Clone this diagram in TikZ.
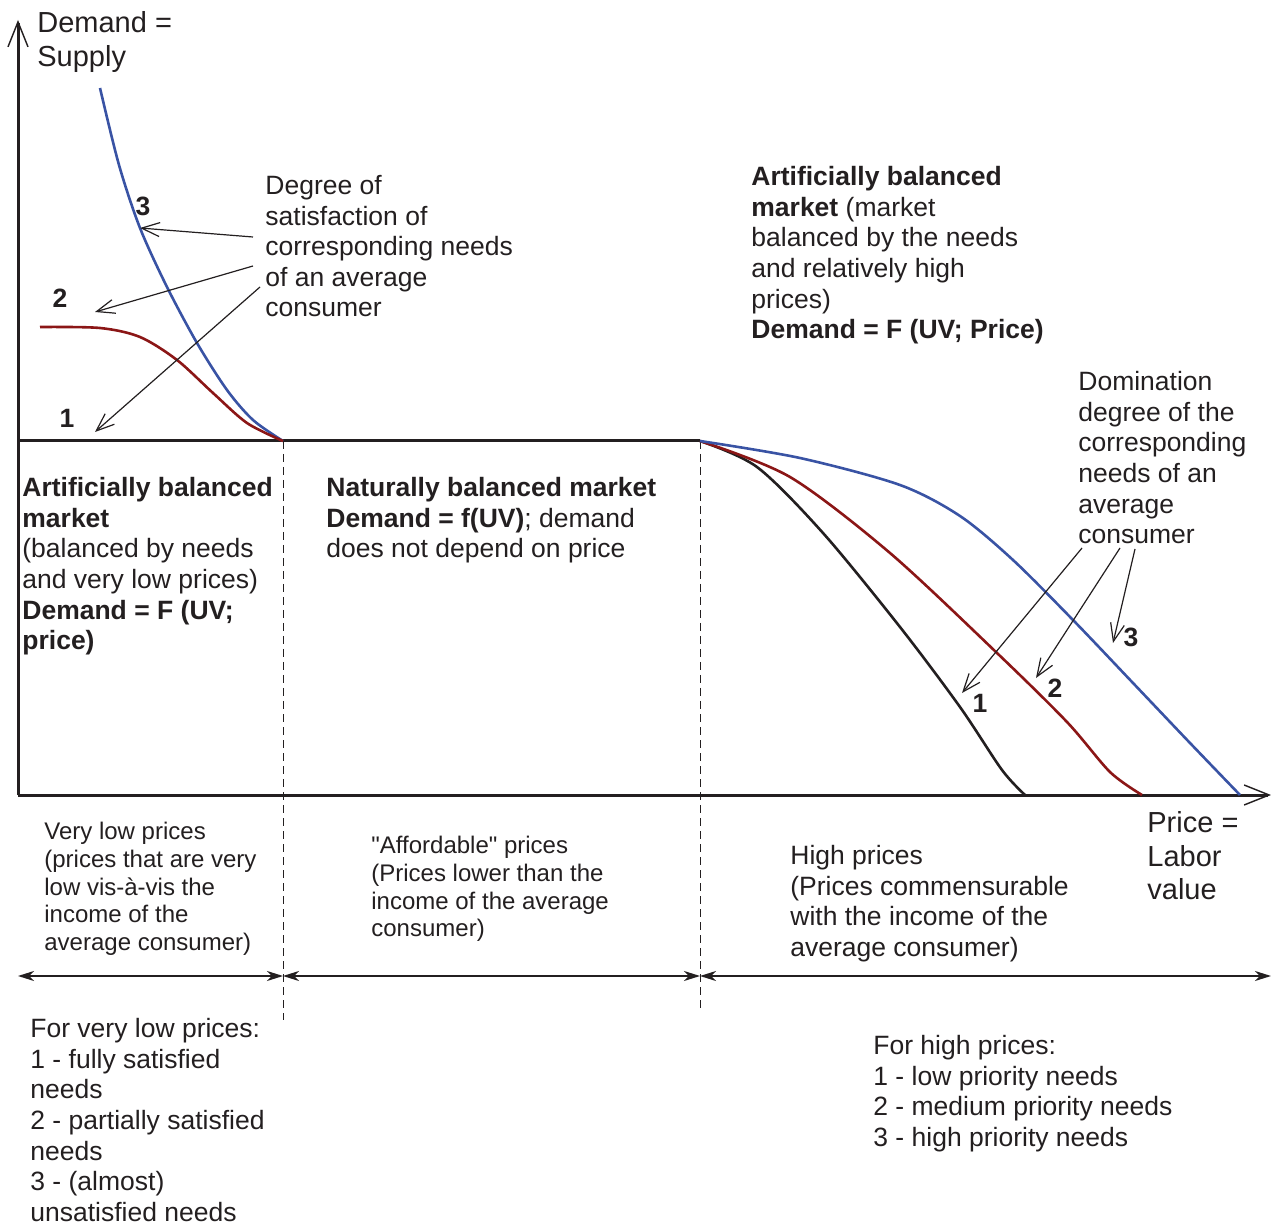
\documentclass[tikz,border=0pt]{standalone}
\usepackage{fontspec}
\setmainfont{Liberation Sans}
\newfontfamily\plainquote{Liberation Sans}
\usetikzlibrary{arrows.meta}
\definecolor{ink}{RGB}{35,31,32}
\definecolor{needblue}{RGB}{57,83,164}
\definecolor{needred}{RGB}{139,22,22}

\begin{document}
\begin{tikzpicture}[
    x=0.5pt, y=-0.5pt,
    txt/.style={anchor=north west, inner sep=0pt, align=left, text=ink,
                font=\fontsize{13.25}{15.3}\selectfont},
    small/.style={txt, font=\fontsize{12}{13.85}\selectfont},
    axlab/.style={txt, font=\fontsize{14.5}{16.85}\selectfont},
    num/.style={inner sep=0pt, text=ink, font=\fontsize{13.25}{15.3}\selectfont\bfseries},
    axis/.style={draw=ink, line width=1.5pt,
                 -{Straight Barb[length=12.5pt, width=10pt, line width=0.7pt]}},
    curve/.style={line width=1.3pt},
    guide/.style={draw=ink, line width=0.5pt, dash pattern=on 4pt off 2.5pt},
    span/.style={draw=ink, line width=1pt,
                 {Stealth[length=8pt, width=5pt, inset=2.5pt]}-{Stealth[length=8pt, width=5pt, inset=2.5pt]}},
    pointer/.style={draw=ink, line width=0.6pt, -{Straight Barb[length=9pt, width=7pt]}}
]
    \useasboundingbox (0,0) rectangle (1271,1225);

    \coordinate (origin) at (18,795);
    \coordinate (ytop) at (18,20);
    \coordinate (xend) at (1271,795);
    \coordinate (lowend) at (283,441);
    \coordinate (highstart) at (700,441);

    \draw[axis] (origin) -- (ytop);
    \draw[axis] (origin) -- (xend);
    \draw[draw=ink, line width=1.5pt] (18,441) -- (highstart);
    \draw[guide] (lowend) -- (283,1020);
    \draw[guide] (highstart) -- (700,1012);

    \draw[curve, needblue] plot[smooth] coordinates {(100,88) (119,165) (140,228) (167,287)
        (197,343) (227,390) (253,420) (283,441)};
    \draw[curve, needred] plot[smooth] coordinates {(40,327) (100,328) (140,337) (177,360)
        (213,393) (247,423) (283,441)};
    \draw[curve, ink] plot[smooth] coordinates {(700,441) (757,467) (823,533)
        (900,627) (960,707) (1002,770) (1025,795)};
    \draw[curve, needred] plot[smooth] coordinates {(700,441) (790,477) (890,553)
        (997,653) (1067,722) (1110,772) (1142,795)};
    \draw[curve, needblue] plot[smooth] coordinates {(700,441) (800,458) (900,485) (960,516)
        (1013,560) (1073,620) (1133,683) (1190,743) (1240,795)};

    \node[axlab] (ylab) at (37,11) {Demand =\\Supply};
    \node[axlab] (xlab) at (1147,811) {Price =\\Labor\\value};

    \node[txt] (degtxt) at (265,175) {Degree of\\satisfaction of\\corresponding needs\\of an average\\consumer};
    \node[txt] (artright) at (751,166) {\textbf{Artificially balanced}\\\textbf{market} (market\\balanced by the needs\\and relatively high\\prices)\\\textbf{Demand = F (UV; Price)}};
    \node[txt] (domtxt) at (1078,371) {Domination\\degree of the\\corresponding\\needs of an\\average\\consumer};
    \node[txt] (artleft) at (22,477) {\textbf{Artificially balanced}\\\textbf{market}\\(balanced by needs\\and very low prices)\\\textbf{Demand = F (UV;}\\\textbf{price)}};
    \node[txt] (natural) at (326,477) {\textbf{Naturally balanced market}\\\textbf{Demand = f(UV)}; demand\\does not depend on price};

    \node[small] (verylow) at (44,822) {Very low prices\\(prices that are very\\low vis-à-vis the\\income of the\\average consumer)};
    \node[small] (afford) at (371,836) {{\plainquote"}Affordable{\plainquote"} prices\\(Prices lower than the\\income of the average\\consumer)};
    \node[txt] (high) at (790,845) {High prices\\(Prices commensurable\\with the income of the\\average consumer)};

    \node[txt] (forlow) at (30,1018) {For very low prices:\\1 - fully satisfied\\needs\\2 - partially satisfied\\needs\\3 - (almost)\\unsatisfied needs};
    \node[txt] (forhigh) at (873,1035) {For high prices:\\1 - low priority needs\\2 - medium priority needs\\3 - high priority needs};

    \node[num] (n3l) at (143,206) {3};
    \node[num] (n2l) at (60,298) {2};
    \node[num] (n1l) at (67,418) {1};
    \node[num] (n1r) at (980,703) {1};
    \node[num] (n2r) at (1055,688) {2};
    \node[num] (n3r) at (1131,637) {3};

    \coordinate (d3) at (253,237);
    \coordinate (d2) at (253,266);
    \coordinate (d1) at (260,287);
    \coordinate (c3l) at (140,228);
    \coordinate (c2l) at (95,312);
    \coordinate (c1l) at (95,432);
    \draw[pointer] (d3) -- (c3l);
    \draw[pointer] (d2) -- (c2l);
    \draw[pointer] (d1) -- (c1l);

    \coordinate (m1) at (1082,548);
    \coordinate (m2) at (1120,548);
    \coordinate (m3) at (1135,549);
    \coordinate (c1r) at (962,693);
    \coordinate (c2r) at (1036,678);
    \coordinate (c3r) at (1113,643);
    \draw[pointer] (m1) -- (c1r);
    \draw[pointer] (m2) -- (c2r);
    \draw[pointer] (m3) -- (c3r);

    \coordinate (s0) at (18,976);
    \coordinate (s1) at (283,976);
    \coordinate (s2) at (700,976);
    \coordinate (s3) at (1271,976);
    \draw[span] (s0) -- (s1);
    \draw[span] (s1) -- (s2);
    \draw[span] (s2) -- (s3);
\end{tikzpicture}
\end{document}
